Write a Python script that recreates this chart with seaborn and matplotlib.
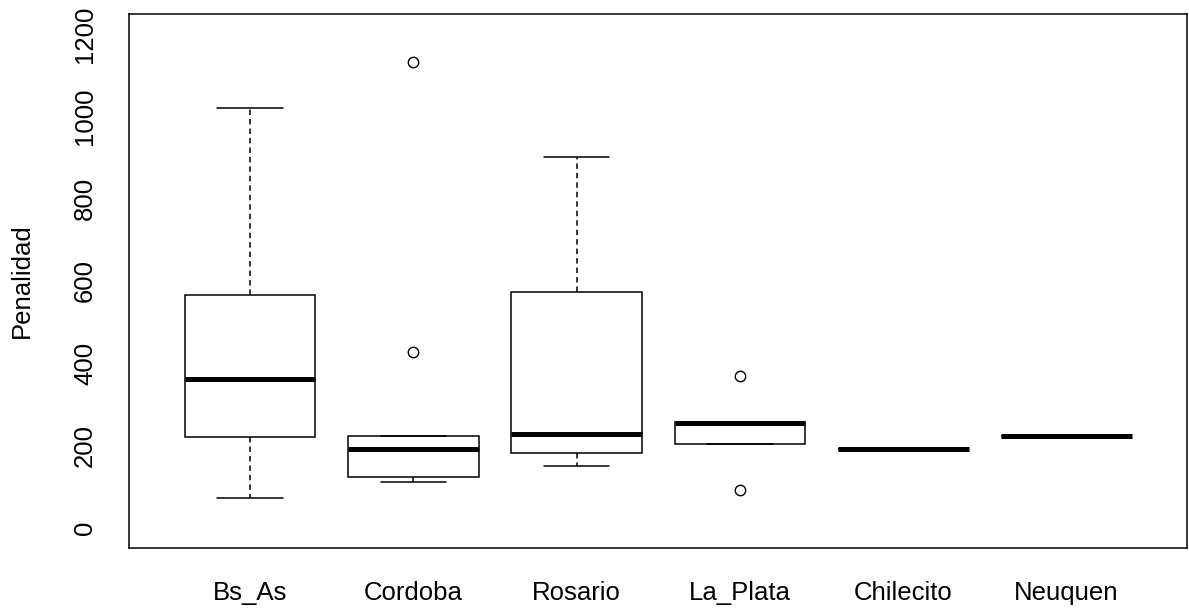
import numpy as np
import pandas as pd
import matplotlib.pyplot as plt
import seaborn as sns

ciudades = ['Bs_As', 'Cordoba', 'Rosario', 'La_Plata', 'Chilecito', 'Neuquen']
bs_as = [74, 220, 363, 566, 1020]
cordoba = [112, 118, 123, 160, 193, 210, 223, 427, 1132]
rosario = [150, 181, 228, 574, 901]
la_plata = [93, 205, 255, 258, 369]
chilecito = [193]
neuquen = [224]
y_ticks = [0, 200, 400, 600, 800, 1000, 1200]

valores = [bs_as, cordoba, rosario, la_plata, chilecito, neuquen]
df = pd.DataFrame({'Ciudad': np.repeat(ciudades, [len(v) for v in valores]),
                   'Penalidad': np.concatenate(valores)})

sns.set_style('white')
plt.rcParams['font.family'] = ['Liberation Sans', 'DejaVu Sans']

fig = plt.figure(figsize=(11.89, 6.10), dpi=100)
ax = fig.add_axes([0.1085, 0.1021, 0.8902, 0.8745])

sns.boxplot(data=df, x='Ciudad', y='Penalidad', order=ciudades, ax=ax,
            color='white', linecolor='black', linewidth=1.1, width=0.8,
            whis=1.5, fliersize=7.5,
            whiskerprops={'linestyle': (0, (3.6, 2.6))},
            medianprops={'linewidth': 3.6},
            flierprops={'marker': 'o', 'markerfacecolor': 'none',
                        'markeredgecolor': 'black', 'markeredgewidth': 1.0})

# ejes al estilo R: limites extendidos 4%
ax.set_xlim(-0.74, 5.74)
ax.set_ylim(-48, 1248)
ax.set_yticks(y_ticks)
ax.set_xlabel('')
ax.set_ylabel('Penalidad', fontsize=18.5, color='black')
ax.yaxis.set_label_coords(-0.09, 0.5)

ax.tick_params(direction='out', length=10, width=1.0, colors='black', labelsize=18.5)
ax.tick_params(axis='x', pad=14)
ax.tick_params(axis='y', pad=13)
for lab in ax.get_yticklabels():
    lab.set_rotation(90)
    lab.set_va('center')

for s in ax.spines.values():
    s.set_visible(True)
    s.set_color('black')
    s.set_linewidth(1.1)

fig.savefig('out.png', dpi=100, facecolor='white')
